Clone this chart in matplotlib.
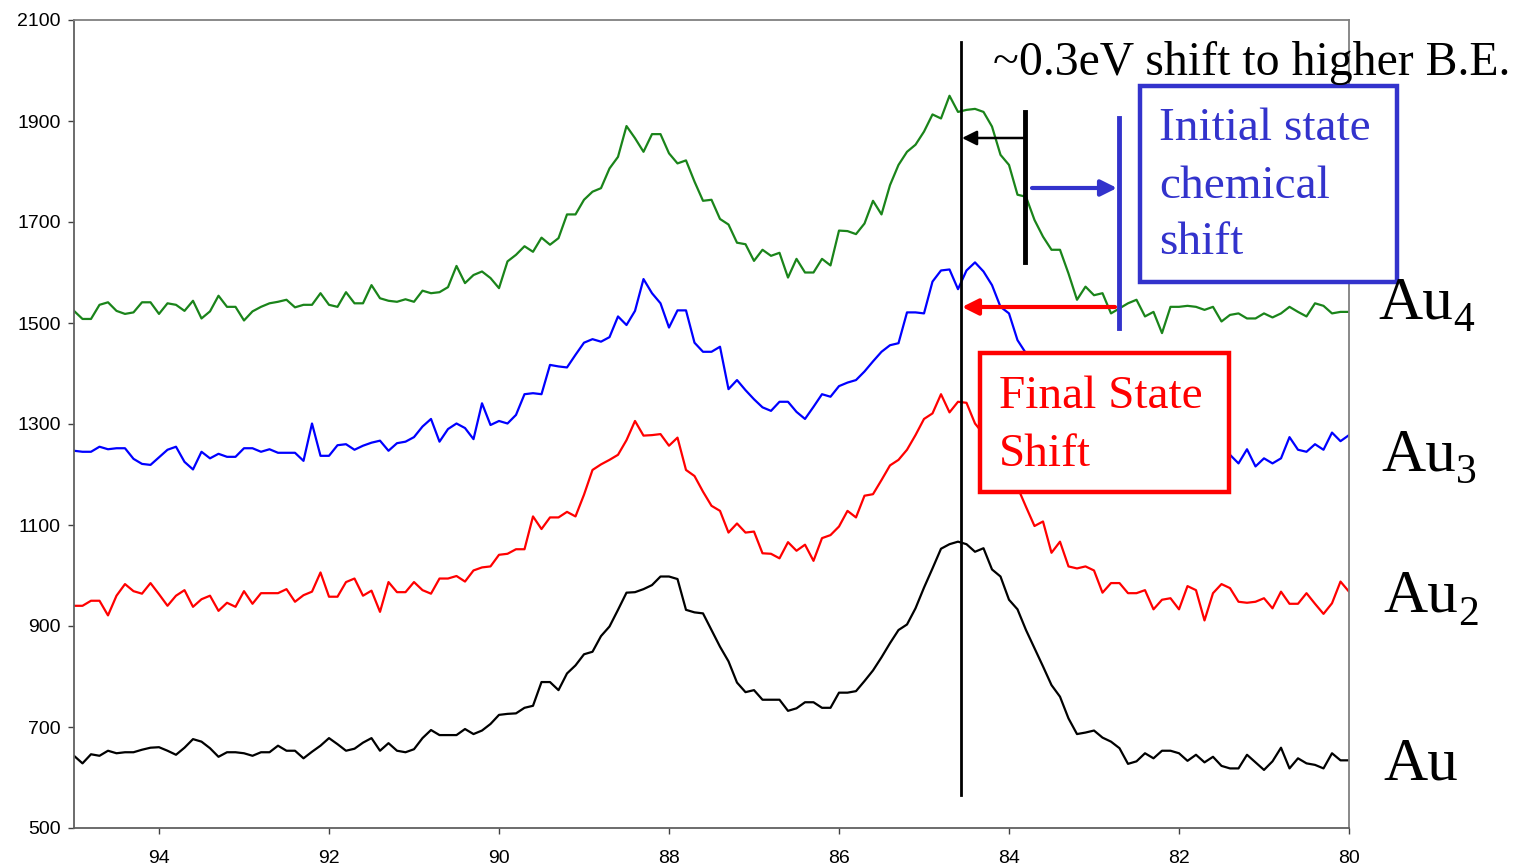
import numpy as np
import matplotlib
matplotlib.use('Agg')
import matplotlib.pyplot as plt
from matplotlib.patches import Rectangle, FancyArrowPatch
from matplotlib.lines import Line2D

# binding energy grid (eV), 0.1 eV steps from 95 down to 80
binding_energy = np.linspace(95, 80, 151)

# intensity (counts), 95.0 -> 80.0 eV
au = [643, 628, 646, 643, 653, 648, 650, 650, 655, 659,
      660, 653, 645, 659, 676, 671, 658, 641, 650, 650,
      648, 643, 650, 650, 663, 653, 653, 638, 651, 663,
      678, 666, 653, 657, 669, 678, 653, 668, 653, 650,
      656, 678, 694, 684, 684, 684, 696, 686, 693, 706,
      724, 726,
      727, 738, 742, 789, 789, 773, 806, 822, 844, 849,
      880, 899, 932, 966, 967, 973, 981, 998, 998, 993,
      932, 927, 925, 892, 859, 830, 788, 769, 773, 754,
      754, 754, 732, 737, 749, 749, 738, 738, 768, 768,
      771, 791, 812, 838, 866, 892, 903, 935, 976, 1014,
      1053, 1062,
      1067, 1062, 1047, 1054, 1012, 998, 952, 933, 892, 856,
      820, 783, 760, 717, 686, 689, 693, 679, 671, 658,
      627, 632, 648, 638, 653, 653, 648, 633, 645, 630,
      641, 623, 618, 618, 645, 630, 615, 632, 659, 618,
      638, 628, 625, 618, 648, 634, 634]

au2 = [940, 940, 950, 950, 921, 960, 983, 969, 964, 985,
       963, 940, 960, 971, 938, 953, 960, 930, 946, 938,
       969, 944, 965, 965, 965, 973, 948, 961, 968, 1006,
       958, 958, 987, 994, 960, 970, 928, 987, 967, 967,
       987, 971, 964, 994, 994, 999, 988, 1010, 1016, 1018,
       1041, 1043,
       1052, 1052, 1117, 1092, 1115, 1115, 1126, 1117, 1160, 1209,
       1220, 1229, 1239, 1268, 1306, 1277, 1278, 1280, 1257, 1273,
       1209, 1197, 1166, 1138, 1128, 1085, 1103, 1085, 1087, 1044,
       1043, 1034, 1066, 1049, 1061, 1029, 1074, 1080, 1097, 1128,
       1115, 1158, 1161, 1189, 1218, 1229, 1249, 1278, 1310, 1321,
       1359, 1323,
       1344, 1342, 1301, 1280, 1255, 1230, 1200, 1175, 1136, 1098,
       1107, 1045, 1067, 1018, 1014, 1018, 1010, 966, 985, 985,
       965, 965, 971, 933, 952, 955, 933, 979, 971, 911,
       965, 983, 975, 948, 946, 948, 955, 935, 968, 944,
       944, 965, 944, 924, 945, 988, 968]

au3 = [1247, 1245, 1245, 1255, 1250, 1252, 1252, 1231, 1221, 1219,
       1234, 1249, 1255, 1225, 1210, 1245, 1232, 1241, 1235, 1235,
       1252, 1252, 1245, 1250, 1243, 1243, 1243, 1227, 1301, 1237,
       1237, 1258, 1260, 1249, 1257, 1263, 1267, 1247, 1262, 1265,
       1274, 1295, 1310, 1265, 1290, 1301, 1292, 1270, 1341, 1298,
       1306, 1301,
       1318, 1359, 1361, 1359, 1417, 1414, 1412, 1437, 1461, 1468,
       1463, 1472, 1513, 1496, 1524, 1587, 1559, 1539, 1491, 1525,
       1525, 1461, 1443, 1443, 1453, 1369, 1387, 1367, 1349, 1333,
       1326, 1344, 1344, 1324, 1310, 1334, 1359, 1354, 1375, 1382,
       1387, 1404, 1424, 1443, 1456, 1460, 1521, 1521, 1519, 1582,
       1604, 1606, 1567, 1604, 1620,
       1602, 1575, 1532, 1519, 1466, 1440,
       1420, 1400, 1385, 1365, 1340, 1320, 1300, 1290, 1275, 1265,
       1262, 1255, 1250, 1258, 1245, 1250, 1242, 1248, 1238, 1245,
       1235, 1248, 1240,
       1239, 1222, 1250, 1216, 1232, 1222, 1232, 1274, 1249, 1245,
       1260, 1249, 1283, 1266, 1278]

au4 = [1524, 1508, 1508, 1536, 1541, 1524, 1518, 1521, 1541, 1541,
       1518, 1539, 1536, 1524, 1544, 1509, 1523, 1554, 1532, 1532,
       1505, 1523, 1532, 1539, 1542, 1546, 1531, 1536, 1536, 1559,
       1536, 1532, 1561, 1539, 1539, 1575, 1549, 1544, 1542, 1547,
       1542, 1564, 1559, 1561, 1571, 1613, 1579, 1595, 1602, 1589,
       1569, 1622,
       1635, 1652, 1641, 1669, 1655, 1668, 1715, 1715, 1744, 1760,
       1767, 1806, 1829, 1890, 1866, 1839, 1874, 1874, 1836, 1816,
       1822, 1780, 1742, 1744, 1706, 1695, 1659, 1656, 1623, 1645,
       1633, 1639, 1590, 1627, 1600, 1600, 1627, 1614, 1683, 1682,
       1676, 1697, 1742, 1715, 1773, 1813, 1839, 1853, 1879, 1913,
       1905, 1950,
       1918, 1922, 1924, 1918, 1889, 1833, 1813, 1754, 1750, 1704,
       1671, 1645, 1645, 1598, 1546, 1572, 1555, 1559, 1519, 1529,
       1539, 1546, 1513, 1522, 1480, 1532, 1532, 1534, 1532, 1526,
       1532, 1503, 1516, 1519, 1509, 1509, 1519, 1511, 1519, 1532,
       1522, 1513, 1539, 1534, 1519, 1522, 1522]

series_colors = ['black', '#ff0000', '#0000ff', '#1a841a']
peak_ev = 84.57
x_ticks = list(range(94, 79, -2))
y_ticks = list(range(500, 2101, 200))

W, H = 1515, 867
fig = plt.figure(figsize=(W / 100, H / 100), dpi=100)
ax = fig.add_axes([74 / W, 1 - 828 / H, 1275 / W, 808 / H])


def fx(px):
    return px / W


def fy(py):
    return 1 - py / H


# spectra
for ys, c in zip([au, au2, au3, au4], series_colors):
    ax.plot(binding_energy, ys, color=c, lw=1.6)

ax.set_xlim(95, 80)
ax.set_ylim(500, 2100)
ax.set_xticks(x_ticks)
ax.set_yticks(y_ticks)
ax.tick_params(axis='both', direction='out', length=4.5, width=1, colors='#404040',
               labelsize=14)
ax.tick_params(axis='y', pad=5)
ax.tick_params(axis='x', pad=11)
for lab in ax.get_xticklabels() + ax.get_yticklabels():
    lab.set_fontfamily('Liberation Sans')
    lab.set_color('black')
for side in ['left', 'bottom']:
    ax.spines[side].set_color('#606060')
    ax.spines[side].set_linewidth(1.3)
for side in ['top', 'right']:
    ax.spines[side].set_color('#808080')
    ax.spines[side].set_linewidth(1.3)

# vertical reference line through the Au peak
ax.plot([peak_ev, peak_ev], [565, 2056], color='black', lw=2, zorder=5)

# shift markers
fig.add_artist(Line2D([fx(1025), fx(1025)], [fy(112), fy(262)], color='black', lw=3.5))
fig.add_artist(Line2D([fx(1119), fx(1119)], [fy(118), fy(328)], color='#3333cc', lw=3.5))

fig.add_artist(FancyArrowPatch((fx(1024), fy(138)), (fx(962), fy(138)),
                               arrowstyle='-|>', mutation_scale=22, lw=1.8,
                               color='black', shrinkA=0, shrinkB=0))
fig.add_artist(FancyArrowPatch((fx(1032), fy(188)), (fx(1117), fy(188)),
                               arrowstyle='-|>', mutation_scale=24, lw=3,
                               color='#3333cc', shrinkA=0, shrinkB=0))
fig.add_artist(FancyArrowPatch((fx(1115), fy(307)), (fx(962), fy(307)),
                               arrowstyle='-|>', mutation_scale=24, lw=3,
                               color='#ff0000', shrinkA=0, shrinkB=0))

# boxes
fig.add_artist(Rectangle((fx(1140), fy(282)), (1397 - 1140) / W, (282 - 86) / H,
                         facecolor='white', edgecolor='#3333cc', lw=3.2, zorder=3))
fig.add_artist(Rectangle((fx(980), fy(492)), (1229 - 980) / W, (492 - 353) / H,
                         facecolor='white', edgecolor='#ff0000', lw=3.2, zorder=3))

serif = 'Liberation Serif'
fig.text(fx(993), fy(75), '~0.3eV shift to higher B.E.', fontsize=34.4, family=serif,
         color='black', va='baseline', zorder=6)
for line, base in zip(['Initial state', 'chemical', 'shift'], [140, 198, 254]):
    fig.text(fx(1159), fy(base), line, fontsize=34, family=serif, color='#3333cc',
             va='baseline', zorder=6)
for line, base in zip(['Final State', 'Shift'], [408, 466]):
    fig.text(fx(999), fy(base), line, fontsize=34, family=serif, color='#ff0000',
             va='baseline', zorder=6)

# series labels
labels = [('Au', '4', 1378, 318, 331), ('Au', '3', 1381, 470, 483),
          ('Au', '2', 1383, 612, 625), ('Au', '', 1383, 780, 780)]
for main, sub, px, base, sub_base in labels:
    fig.text(fx(px), fy(base), main, fontsize=44, family=serif, va='baseline')
    if sub:
        fig.text(fx(px + 75), fy(sub_base), sub, fontsize=30, family=serif, va='baseline')

fig.savefig('out.png', dpi=100)
